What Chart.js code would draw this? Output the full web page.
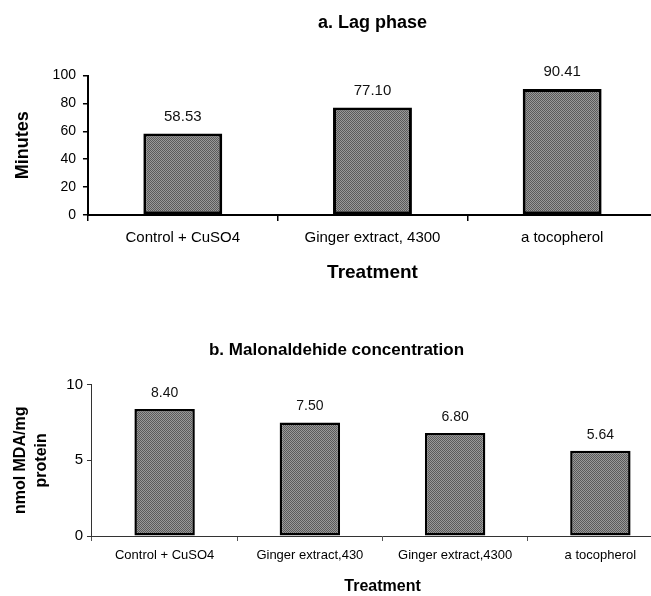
<!DOCTYPE html>
<html>
<head>
<meta charset="utf-8">
<script src="https://cdn.jsdelivr.net/npm/chart.js@4"></script>
<style>
  html, body { margin: 0; padding: 0; background: #fff; overflow: hidden; width: 651px; height: 596px; }
  canvas { position: absolute; left: 0; }
  #lag { top: 0; }
  #mda { top: 300px; }
</style>
</head>
<body>
<canvas id="lag" width="657" height="300"></canvas>
<canvas id="mda" width="673" height="296"></canvas>
<script>
// a. Lag phase
const lagLabels = ['Control + CuSO4', 'Ginger extract, 4300', 'a tocopherol'];
const lagMinutes = [58.53, 77.10, 90.41];

// b. Malonaldehide concentration
const mdaLabels = ['Control + CuSO4', 'Ginger extract,430', 'Ginger extract,4300', 'a tocopherol'];
const mdaValues = [8.40, 7.50, 6.80, 5.64];

const FONT = "'Liberation Sans', Arial, sans-serif";

// stippled grey like the scanned bars
function stipple() {
  const c = document.createElement('canvas');
  c.width = 2; c.height = 2;
  const g = c.getContext('2d');
  g.fillStyle = '#999999'; g.fillRect(0, 0, 2, 2);
  g.fillStyle = '#5a5a5a'; g.fillRect(0, 0, 1, 1); g.fillRect(1, 1, 1, 1);
  return g.createPattern(c, 'repeat');
}

// numbers above the bars
const valueLabels = {
  id: 'valueLabels',
  afterDatasetsDraw(chart, args, opts) {
    const ctx = chart.ctx;
    const meta = chart.getDatasetMeta(0);
    ctx.save();
    ctx.font = opts.size + 'px ' + FONT;
    ctx.fillStyle = '#111';
    ctx.textAlign = 'center';
    ctx.textBaseline = 'middle';
    meta.data.forEach((bar, i) => {
      const v = chart.data.datasets[0].data[i];
      ctx.fillText(v.toFixed(2), bar.x, bar.y - opts.gap);
    });
    ctx.restore();
  }
};

new Chart(document.getElementById('lag'), {
  type: 'bar',
  data: {
    labels: lagLabels,
    datasets: [{
      data: lagMinutes,
      backgroundColor: stipple(),
      borderColor: '#000',
      borderWidth: 3,
      borderSkipped: false,
      categoryPercentage: 0.8,
      barPercentage: 0.52
    }]
  },
  plugins: [valueLabels],
  options: {
    responsive: false,
    animation: false,
    plugins: {
      legend: { display: false },
      tooltip: { enabled: false },
      title: {
        display: true,
        text: 'a. Lag phase',
        fullSize: false,
        color: '#000',
        font: { family: FONT, size: 18, weight: 'bold' },
        padding: { top: 12, bottom: 42 }
      },
      valueLabels: { size: 15, gap: 17 }
    },
    scales: {
      x: {
        grid: { drawOnChartArea: false, color: '#000', lineWidth: 1.5, tickLength: 6 },
        border: { color: '#000', width: 2 },
        ticks: { color: '#000', padding: 8, font: { family: FONT, size: 15 } },
        title: {
          display: true, text: 'Treatment', color: '#000',
          font: { family: FONT, size: 19, weight: 'bold' },
          padding: { top: 6.6, bottom: 15.6 }
        }
      },
      y: {
        min: 0, max: 100,
        grid: { drawOnChartArea: false, color: '#000', lineWidth: 1.5, tickLength: 5 },
        border: { color: '#000', width: 2 },
        ticks: { stepSize: 20, color: '#000', padding: 7, font: { family: FONT, size: 14 } },
        title: {
          display: true, text: 'Minutes', color: '#000',
          font: { family: FONT, size: 18, weight: 'bold' },
          padding: { top: 12.2, bottom: 11.8 }
        }
      }
    }
  }
});

new Chart(document.getElementById('mda'), {
  type: 'bar',
  data: {
    labels: mdaLabels,
    datasets: [{
      data: mdaValues,
      backgroundColor: stipple(),
      borderColor: '#000',
      borderWidth: 2.5,
      borderSkipped: false,
      categoryPercentage: 0.8,
      barPercentage: 0.52
    }]
  },
  plugins: [valueLabels],
  options: {
    responsive: false,
    animation: false,
    plugins: {
      legend: { display: false },
      tooltip: { enabled: false },
      title: {
        display: true,
        text: 'b. Malonaldehide concentration',
        color: '#000',
        font: { family: FONT, size: 17, weight: 'bold' },
        padding: { top: 40.5, bottom: 23.8 }
      },
      valueLabels: { size: 14, gap: 16 }
    },
    scales: {
      x: {
        grid: { drawOnChartArea: false, color: '#555', lineWidth: 1, tickLength: 5 },
        border: { color: '#333', width: 1 },
        ticks: { color: '#000', padding: 7, font: { family: FONT, size: 13 } },
        title: {
          display: true, text: 'Treatment', color: '#000',
          font: { family: FONT, size: 16, weight: 'bold' },
          padding: { top: 6.2, bottom: 0 }
        }
      },
      y: {
        min: 0, max: 10,
        grid: { drawOnChartArea: false, color: '#333', lineWidth: 1, tickLength: 5 },
        border: { color: '#333', width: 1 },
        ticks: { stepSize: 5, color: '#000', padding: 4, font: { family: FONT, size: 15 } },
        title: {
          display: true, text: ['nmol MDA/mg', 'protein'], color: '#000',
          font: { family: FONT, size: 16, weight: 'bold', lineHeight: 1.3 },
          padding: { top: 10.6, bottom: 10.1 }
        }
      }
    }
  }
});
</script>
</body>
</html>
